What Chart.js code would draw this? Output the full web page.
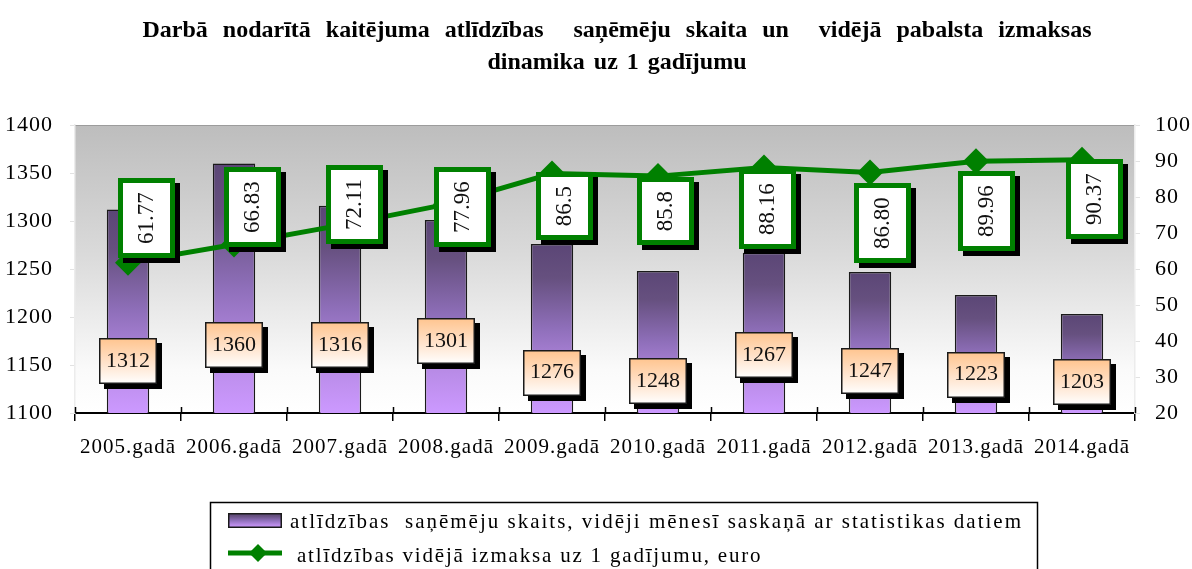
<!DOCTYPE html>
<html>
<head>
<meta charset="utf-8">
<script src="https://cdn.jsdelivr.net/npm/chart.js@4.4.1/dist/chart.umd.min.js"></script>
<style>
  html, body { margin: 0; padding: 0; background: #fff; }
  #wrap { width: 1192px; height: 569px; }
</style>
</head>
<body>
<div id="wrap"><canvas id="chart" width="1192" height="569"></canvas></div>
<script>
const years = ["2005.gadā", "2006.gadā", "2007.gadā", "2008.gadā", "2009.gadā",
               "2010.gadā", "2011.gadā", "2012.gadā", "2013.gadā", "2014.gadā"];
const recipients = [1312, 1360, 1316, 1301, 1276, 1248, 1267, 1247, 1223, 1203];
const avgPayout = [61.77, 66.83, 72.11, 77.96, 86.5, 85.8, 88.16, 86.80, 89.96, 90.37];
const payoutText = ["61.77", "66.83", "72.11", "77.96", "86.5", "85.8", "88.16", "86.80", "89.96", "90.37"];

const titleLines = [
  "Darbā nodarītā kaitējuma atlīdzības  saņēmēju skaita un  vidējā pabalsta izmaksas",
  "dinamika uz 1 gadījumu"
];

// where the hand-placed data labels sit (axis units / px shift)
const barLabelAt = [1154, 1171, 1171, 1175, 1142, 1133, 1160, 1144, 1140, 1132];
const payLabelAt = [74.2, 77.2, 77.8, 77.2, 77.6, 76.1, 76.7, 72.8, 76.1, 79.4];
const payLabelShift = [18, 18, 14, 16, 12, 7, 3, 12, 10, 12];

const SERIF = '"Liberation Serif", "Times New Roman", serif';
const GREEN = '#008000';

function purpleGradient(ctx, top, bottom) {
  const g = ctx.createLinearGradient(0, top, 0, bottom);
  g.addColorStop(0, '#5b4676');
  g.addColorStop(0.2, '#66507f');
  g.addColorStop(0.5, '#8f6fba');
  g.addColorStop(0.78, '#b88be6');
  g.addColorStop(1, '#cc99ff');
  return g;
}

// gray gradient behind the plot + letter spacing for axis text
const plotBackground = {
  id: 'plotBackground',
  beforeDraw(chart) {
    const { ctx, chartArea: a } = chart;
    ctx.save();
    const g = ctx.createLinearGradient(0, a.top, 0, a.bottom);
    g.addColorStop(0, '#bdbdbd');
    g.addColorStop(0.45, '#dadada');
    g.addColorStop(0.85, '#fafafa');
    g.addColorStop(1, '#ffffff');
    ctx.fillStyle = g;
    ctx.fillRect(a.left, a.top, a.right - a.left, a.bottom - a.top);
    ctx.strokeStyle = '#9c9c9c';
    ctx.lineWidth = 1;
    ctx.beginPath();
    ctx.moveTo(a.left, a.top + 0.5);
    ctx.lineTo(a.right, a.top + 0.5);
    ctx.stroke();
    ctx.restore();
    ctx.letterSpacing = '1px';
  },
  afterDraw(chart) {
    // category ticks poke up into the plot a little
    const { ctx, chartArea: a, scales } = chart;
    const x = scales.x;
    ctx.save();
    ctx.strokeStyle = '#000';
    ctx.lineWidth = 1.5;
    ctx.beginPath();
    for (let i = 0; i <= years.length; i++) {
      let px;
      if (i === 0) px = a.left;
      else if (i === years.length) px = a.right;
      else px = (x.getPixelForValue(i - 1) + x.getPixelForValue(i)) / 2;
      ctx.moveTo(Math.round(px) + 0.5, a.bottom - 6);
      ctx.lineTo(Math.round(px) + 0.5, a.bottom);
    }
    ctx.stroke();
    ctx.restore();
  }
};

const dataLabels = {
  id: 'dataLabels',
  afterDatasetsDraw(chart) {
    const { ctx, scales } = chart;
    ctx.save();
    ctx.textAlign = 'center';
    ctx.textBaseline = 'middle';
    ctx.letterSpacing = '0px';

    // counts: peach boxes
    recipients.forEach((v, i) => {
      const cx = scales.x.getPixelForValue(i);
      const cy = scales.y.getPixelForValue(barLabelAt[i]);
      const w = 58, h = 46;
      const x0 = Math.round(cx - w / 2), y0 = Math.round(cy - h / 2);
      ctx.fillStyle = '#000';
      ctx.fillRect(x0 + 5, y0 + 5, w, h);
      const g = ctx.createLinearGradient(0, y0, 0, y0 + h);
      g.addColorStop(0, '#ffc48e');
      g.addColorStop(0.55, '#ffe3cc');
      g.addColorStop(1, '#ffffff');
      ctx.fillStyle = g;
      ctx.fillRect(x0, y0, w, h);
      ctx.strokeStyle = '#1a1a1a';
      ctx.lineWidth = 1.5;
      ctx.strokeRect(x0 + 0.75, y0 + 0.75, w - 1.5, h - 1.5);
      ctx.fillStyle = '#111';
      ctx.font = '22px ' + SERIF;
      ctx.fillText(String(v), cx, cy);
    });

    // payout: green framed boxes with vertical text
    avgPayout.forEach((v, i) => {
      const txt = payoutText[i];
      ctx.font = '23px ' + SERIF;
      const tw = ctx.measureText(txt).width;
      const cx = scales.x.getPixelForValue(i) + payLabelShift[i];
      const cy = scales.y1.getPixelForValue(payLabelAt[i]);
      const w = 57, h = Math.round(tw + 28);
      const x0 = Math.round(cx - w / 2), y0 = Math.round(cy - h / 2);
      ctx.fillStyle = '#000';
      ctx.fillRect(x0 + 5, y0 + 5, w, h);
      ctx.fillStyle = GREEN;
      ctx.fillRect(x0, y0, w, h);
      ctx.fillStyle = '#fff';
      ctx.fillRect(x0 + 5, y0 + 5, w - 10, h - 10);
      ctx.save();
      ctx.translate(x0 + w / 2, y0 + h / 2);
      ctx.rotate(-Math.PI / 2);
      ctx.fillStyle = '#111';
      ctx.fillText(txt, 0, 0);
      ctx.restore();
    });
    ctx.restore();
  }
};

const titleAndLegend = {
  id: 'titleAndLegend',
  afterDraw(chart) {
    const { ctx } = chart;
    ctx.save();
    ctx.fillStyle = '#000';
    ctx.textAlign = 'center';
    ctx.textBaseline = 'alphabetic';
    ctx.font = 'bold 24px ' + SERIF;
    ctx.letterSpacing = '0px';
    ctx.wordSpacing = '9px';
    ctx.fillText(titleLines[0], 617, 37);
    ctx.wordSpacing = '3px';
    ctx.fillText(titleLines[1], 617, 69);
    ctx.wordSpacing = '0px';

    // legend frame
    ctx.strokeStyle = '#000';
    ctx.lineWidth = 1.5;
    ctx.strokeRect(210.5, 502.5, 827, 80);

    // bar swatch
    ctx.fillStyle = purpleGradient(ctx, 513, 528);
    ctx.fillRect(228, 513, 54, 15);
    ctx.strokeStyle = '#1a1a1a';
    ctx.lineWidth = 1.5;
    ctx.strokeRect(228.75, 513.75, 52.5, 13.5);

    // line swatch
    ctx.strokeStyle = GREEN;
    ctx.lineWidth = 5;
    ctx.beginPath();
    ctx.moveTo(228, 553);
    ctx.lineTo(282, 553);
    ctx.stroke();
    ctx.fillStyle = GREEN;
    ctx.beginPath();
    ctx.moveTo(249, 553); ctx.lineTo(258, 544); ctx.lineTo(267, 553); ctx.lineTo(258, 562);
    ctx.closePath();
    ctx.fill();

    ctx.fillStyle = '#000';
    ctx.textAlign = 'left';
    ctx.textBaseline = 'middle';
    ctx.font = '21px ' + SERIF;
    ctx.letterSpacing = '2px';
    ctx.fillText(chart.data.datasets[1].label, 290, 522);
    ctx.letterSpacing = '1.8px';
    ctx.fillText(chart.data.datasets[0].label, 297, 556);
    ctx.restore();
  }
};

new Chart(document.getElementById('chart'), {
  type: 'bar',
  data: {
    labels: years,
    datasets: [
      {
        type: 'line',
        label: 'atlīdzības vidējā izmaksa uz 1 gadījumu, euro',
        data: avgPayout,
        yAxisID: 'y1',
        order: 0,
        borderColor: GREEN,
        borderWidth: 5,
        tension: 0,
        pointStyle: 'rectRot',
        pointRadius: 13,
        pointBorderWidth: 0,
        pointBackgroundColor: GREEN,
        pointBorderColor: GREEN
      },
      {
        type: 'bar',
        label: 'atlīdzības  saņēmēju skaits, vidēji mēnesī saskaņā ar statistikas datiem',
        data: recipients,
        yAxisID: 'y',
        order: 1,
        barPercentage: 0.4,
        categoryPercentage: 1,
        borderColor: '#1a1a1a',
        borderWidth: 1.5,
        borderSkipped: 'bottom',
        backgroundColor(c) {
          const chart = c.chart;
          const a = chart.chartArea;
          if (!a || c.type !== 'data') return '#9070b8';
          const top = chart.scales.y.getPixelForValue(c.raw);
          return purpleGradient(chart.ctx, top, a.bottom);
        }
      }
    ]
  },
  options: {
    responsive: false,
    animation: false,
    layout: { padding: { top: 125, bottom: 96, left: 0, right: 0 } },
    plugins: {
      legend: { display: false },
      title: { display: false },
      tooltip: { enabled: false }
    },
    scales: {
      x: {
        grid: { drawOnChartArea: false, offset: true, color: '#000', lineWidth: 1.5, tickLength: 8 },
        border: { color: '#000', width: 2 },
        ticks: {
          color: '#000',
          font: { family: SERIF, size: 21 },
          padding: 14,
          maxRotation: 0,
          autoSkip: false
        },
        afterFit(s) { s.height = 60; }
      },
      y: {
        position: 'left',
        min: 1100,
        max: 1400,
        ticks: { stepSize: 50, color: '#000', font: { family: SERIF, size: 22 }, padding: 17, callback: v => String(v) },
        grid: { drawOnChartArea: false, color: '#e2e2e2', tickLength: 5 },
        border: { color: '#ececec', width: 1.5 },
        afterFit(s) { s.width = 75; }
      },
      y1: {
        position: 'right',
        min: 20,
        max: 100,
        ticks: { stepSize: 10, color: '#000', font: { family: SERIF, size: 22 }, padding: 15, callback: v => String(v) },
        grid: { drawOnChartArea: false, color: '#e2e2e2', tickLength: 5 },
        border: { color: '#ececec', width: 1.5 },
        afterFit(s) { s.width = 57; }
      }
    }
  },
  plugins: [plotBackground, dataLabels, titleAndLegend]
});
</script>
</body>
</html>
